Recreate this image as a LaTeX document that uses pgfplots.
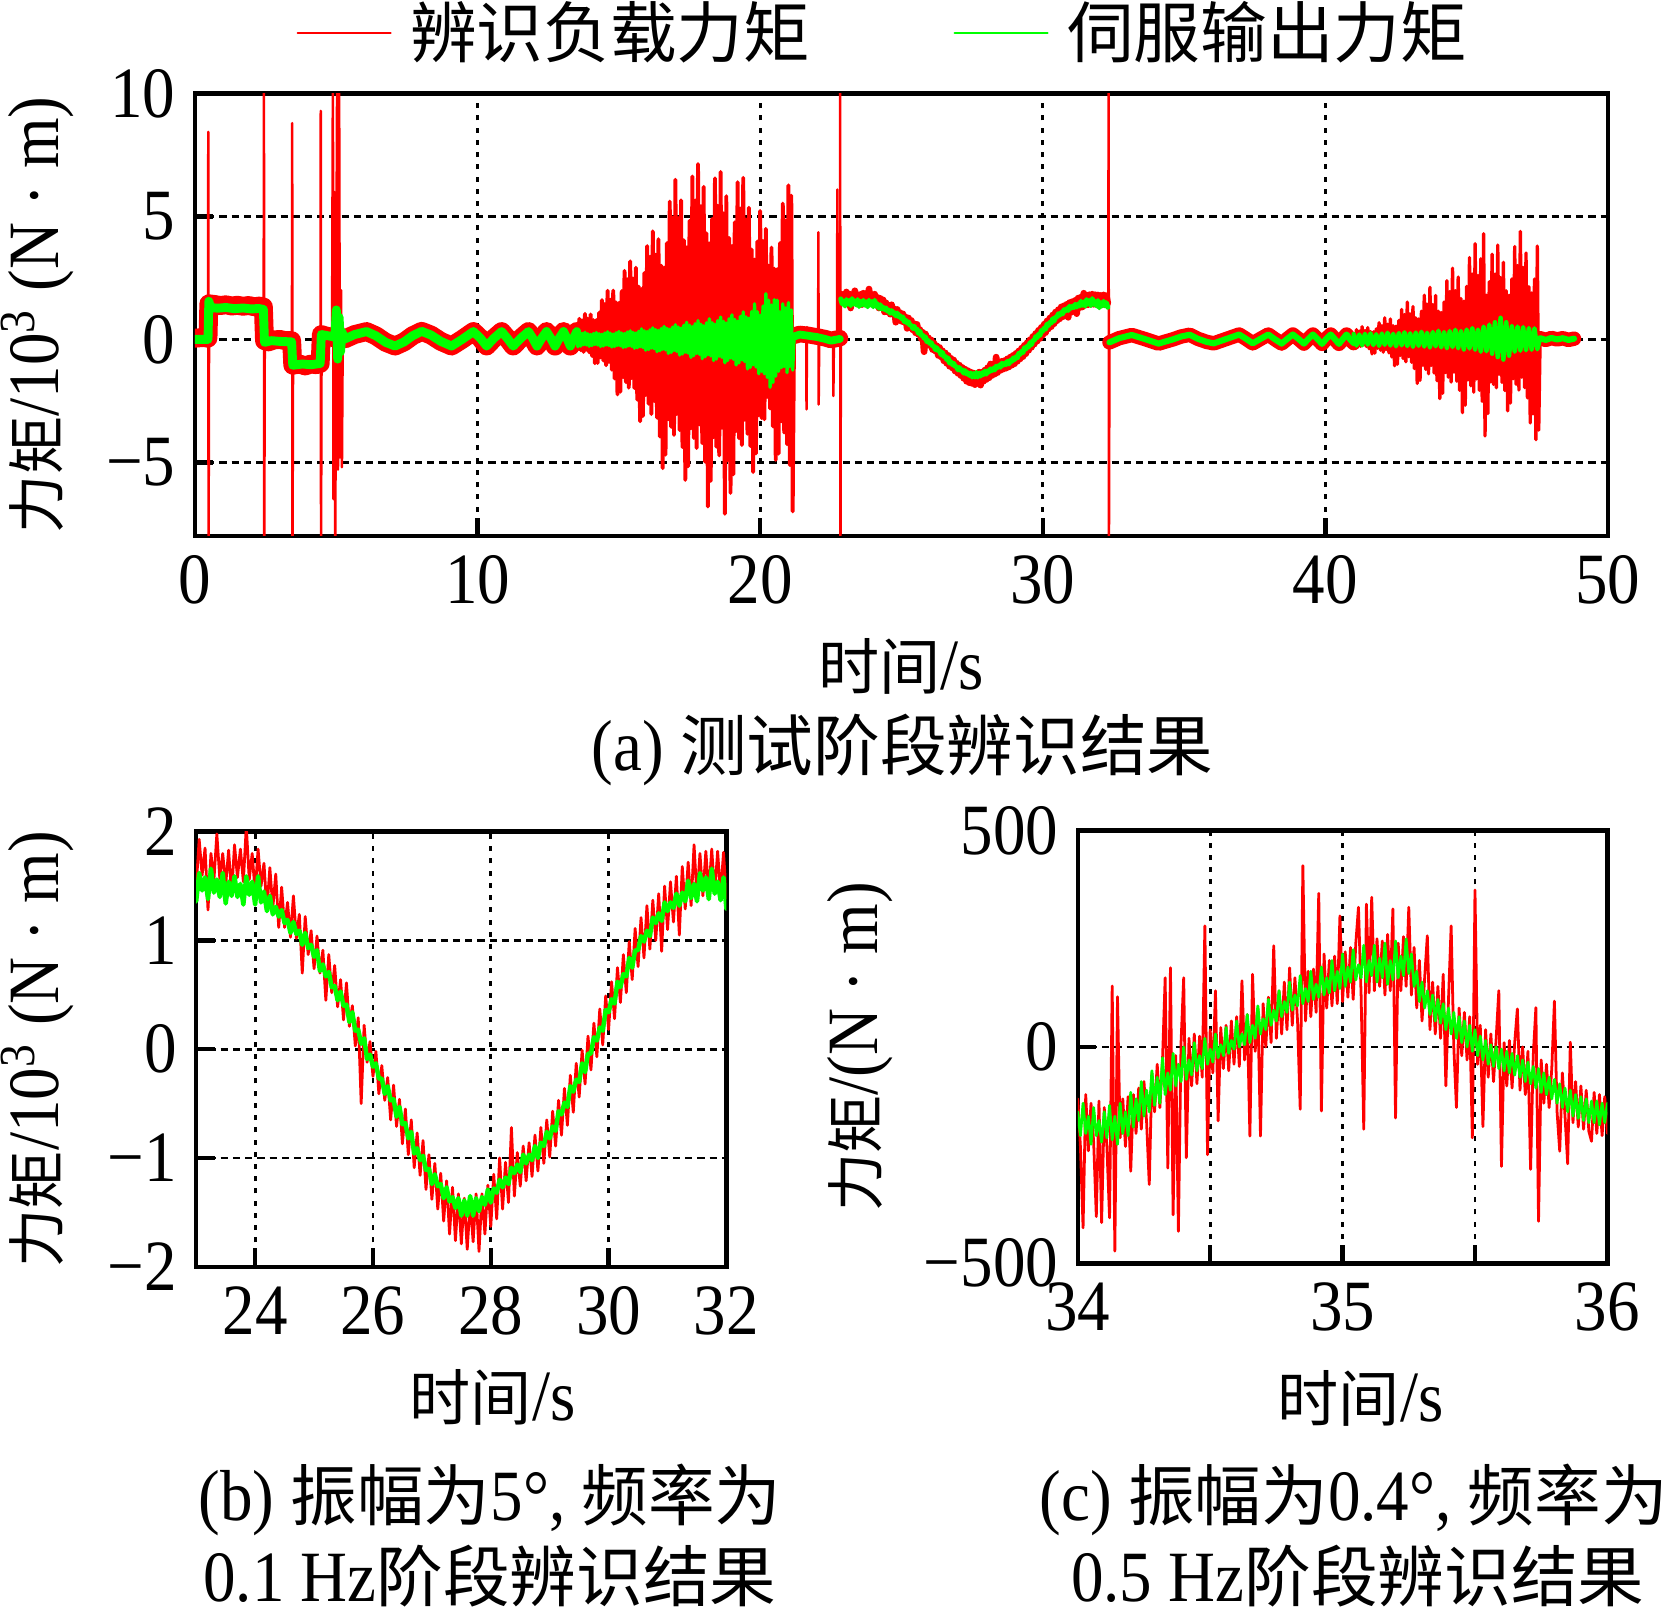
\documentclass[border=0pt]{standalone}
\usepackage{pgfplots}
\pgfplotsset{compat=1.18}
\usepackage{pgfplotstable}
\usepackage{fontspec}
\setmainfont{Liberation Serif}[FakeStretch=0.9]
\newfontfamily\cjk{Noto Sans CJK SC}
\definecolor{myred}{RGB}{255,0,0}
\definecolor{mygreen}{RGB}{0,255,0}
\newcommand{\zh}[2][12]{{\fontsize{#1}{#1}\selectfont\cjk #2}}
\pgfplotsset{
  myaxis/.style={
    scale only axis, anchor=south west, no marks,
    axis line style={line width=0.8pt},
    tick style={line width=0.8pt, black},
    major tick length=3.3pt,
    tick align=inside, tick pos=left,
    grid=major,
    x grid style={line width=0.5pt, black, dash pattern=on 0.9pt off 1.3pt},
    y grid style={line width=0.5pt, black, dash pattern=on 1.3pt off 0.9pt},
    tick label style={font=\fontsize{13}{15}\selectfont},
    label style={font=\fontsize{13}{15}\selectfont},
    every axis plot/.append style={line join=round, line cap=round},
  }
}
\begin{document}
\pgfplotstableread{
t y
22.85 1.85
22.90 1.56
22.95 1.82
23.00 1.50
23.05 1.93
23.10 1.60
23.15 1.85
23.20 1.28
23.25 1.80
23.30 1.55
23.35 1.98
23.40 1.57
23.45 1.80
23.50 1.51
23.55 1.83
23.60 1.42
23.65 1.88
23.70 1.58
23.75 1.84
23.80 1.54
23.85 2.05
23.90 1.56
23.95 1.80
24.00 1.44
24.05 1.84
24.10 1.50
24.15 1.71
24.20 1.28
24.25 1.67
24.30 1.30
24.35 1.61
24.40 1.12
24.45 1.49
24.50 1.12
24.55 1.35
24.60 1.03
24.65 1.41
24.70 1.02
24.75 1.24
24.80 0.70
24.85 1.22
24.90 0.87
24.95 1.09
25.00 0.74
25.05 1.04
25.10 0.70
25.15 0.91
25.20 0.45
25.25 0.87
25.30 0.52
25.35 0.77
25.40 0.39
25.45 0.64
25.50 0.27
25.55 0.61
25.60 0.21
25.65 0.40
25.70 0.03
25.75 0.29
25.80 -0.50
25.85 0.22
25.90 -0.12
25.95 0.07
26.00 -0.25
26.05 -0.02
26.10 -0.41
26.15 -0.15
26.20 -0.47
26.25 -0.26
26.30 -0.65
26.35 -0.33
26.40 -0.71
26.45 -0.46
26.50 -0.87
26.55 -0.55
26.60 -0.97
26.65 -0.65
26.70 -1.09
26.75 -0.77
26.80 -1.16
26.85 -0.84
26.90 -1.29
26.95 -0.97
27.00 -1.38
27.05 -1.05
27.10 -1.47
27.15 -1.14
27.20 -1.58
27.25 -1.21
27.30 -1.70
27.35 -1.27
27.40 -1.76
27.45 -1.33
27.50 -1.79
27.55 -1.37
27.60 -1.84
27.65 -1.40
27.70 -1.77
27.75 -1.33
27.80 -1.86
27.85 -1.33
27.90 -1.70
27.95 -1.25
28.00 -1.63
28.05 -1.15
28.10 -1.56
28.15 -1.00
28.20 -1.47
28.25 -1.04
28.30 -1.41
28.35 -0.72
28.40 -1.35
28.45 -0.95
28.50 -1.26
28.55 -0.89
28.60 -1.21
28.65 -0.86
28.70 -1.17
28.75 -0.79
28.80 -1.12
28.85 -0.72
28.90 -1.05
28.95 -0.65
29.00 -0.99
29.05 -0.57
29.10 -0.89
29.15 -0.47
29.20 -0.79
29.25 -0.36
29.30 -0.70
29.35 -0.24
29.40 -0.58
29.45 -0.13
29.50 -0.44
29.55 -0.01
29.60 -0.32
29.65 0.12
29.70 -0.19
29.75 0.24
29.80 -0.07
29.85 0.37
29.90 0.04
29.95 0.49
30.00 0.18
30.05 0.62
30.10 0.28
30.15 0.75
30.20 0.43
30.25 0.87
30.30 0.52
30.35 0.99
30.40 0.64
30.45 1.11
30.50 0.76
30.55 1.21
30.60 0.84
30.65 1.32
30.70 0.92
30.75 1.37
30.80 1.00
30.85 1.43
30.90 0.90
30.95 1.50
31.00 1.10
31.05 1.54
31.10 1.17
31.15 1.59
31.20 1.05
31.25 1.68
31.30 1.29
31.35 1.72
31.40 1.32
31.45 1.88
31.50 1.39
31.55 1.80
31.60 1.41
31.65 1.82
31.70 1.43
31.75 1.84
31.80 1.43
31.85 1.82
31.90 1.42
31.95 1.81
32.00 1.39
32.05 1.79
32.10 1.41
32.15 1.81
32.20 1.44
32.25 1.78
32.30 1.47
}\bred
\pgfplotstableread{
t y
22.85 1.65
22.90 1.45
22.95 1.56
23.00 1.36
23.05 1.62
23.10 1.46
23.15 1.58
23.20 1.38
23.25 1.66
23.30 1.44
23.35 1.56
23.40 1.40
23.45 1.62
23.50 1.34
23.55 1.54
23.60 1.41
23.65 1.59
23.70 1.40
23.75 1.52
23.80 1.33
23.85 1.59
23.90 1.42
23.95 1.54
24.00 1.33
24.05 1.59
24.10 1.35
24.15 1.45
24.20 1.27
24.25 1.41
24.30 1.24
24.35 1.31
24.40 1.22
24.45 1.28
24.50 1.16
24.55 1.19
24.60 1.07
24.65 1.17
24.70 1.06
24.75 1.09
24.80 0.96
24.85 1.07
24.90 0.93
24.95 0.96
25.00 0.85
25.05 0.91
25.10 0.72
25.15 0.78
25.20 0.67
25.25 0.71
25.30 0.57
25.35 0.58
25.40 0.45
25.45 0.53
25.50 0.40
25.55 0.41
25.60 0.25
25.65 0.34
25.70 0.17
25.75 0.18
25.80 0.05
25.85 0.10
25.90 -0.09
25.95 -0.05
26.00 -0.16
26.05 -0.13
26.10 -0.27
26.15 -0.27
26.20 -0.41
26.25 -0.34
26.30 -0.47
26.35 -0.46
26.40 -0.62
26.45 -0.53
26.50 -0.69
26.55 -0.68
26.60 -0.82
26.65 -0.76
26.70 -0.96
26.75 -0.91
26.80 -1.02
26.85 -0.98
26.90 -1.11
26.95 -1.10
27.00 -1.24
27.05 -1.15
27.10 -1.26
27.15 -1.24
27.20 -1.37
27.25 -1.27
27.30 -1.40
27.35 -1.36
27.40 -1.46
27.45 -1.37
27.50 -1.53
27.55 -1.39
27.60 -1.53
27.65 -1.35
27.70 -1.53
27.75 -1.37
27.80 -1.49
27.85 -1.36
27.90 -1.43
27.95 -1.29
28.00 -1.41
28.05 -1.28
28.10 -1.32
28.15 -1.20
28.20 -1.27
28.25 -1.18
28.30 -1.24
28.35 -1.09
28.40 -1.14
28.45 -1.06
28.50 -1.13
28.55 -0.97
28.60 -1.05
28.65 -0.97
28.70 -1.02
28.75 -0.89
28.80 -1.00
28.85 -0.86
28.90 -0.89
28.95 -0.76
29.00 -0.82
29.05 -0.71
29.10 -0.75
29.15 -0.57
29.20 -0.60
29.25 -0.49
29.30 -0.53
29.35 -0.34
29.40 -0.39
29.45 -0.28
29.50 -0.30
29.55 -0.13
29.60 -0.21
29.65 -0.04
29.70 -0.04
29.75 0.11
29.80 0.08
29.85 0.20
29.90 0.17
29.95 0.36
30.00 0.34
30.05 0.46
30.10 0.42
30.15 0.62
30.20 0.57
30.25 0.69
30.30 0.67
30.35 0.84
30.40 0.75
30.45 0.91
30.50 0.91
30.55 1.04
30.60 0.99
30.65 1.09
30.70 1.04
30.75 1.21
30.80 1.16
30.85 1.25
30.90 1.18
30.95 1.35
31.00 1.27
31.05 1.35
31.10 1.30
31.15 1.43
31.20 1.32
31.25 1.44
31.30 1.36
31.35 1.55
31.40 1.39
31.45 1.52
31.50 1.36
31.55 1.62
31.60 1.46
31.65 1.58
31.70 1.38
31.75 1.66
31.80 1.43
31.85 1.54
31.90 1.37
31.95 1.58
32.00 1.29
32.05 1.49
32.10 1.37
32.15 1.55
32.20 1.37
32.25 1.49
32.30 1.31
}\bgreen
\pgfplotstableread{
t y
34.00 -120
34.01 -230
34.02 -418
34.03 -110
34.04 -240
34.05 -130
34.06 -220
34.07 -392
34.08 -125
34.09 -406
34.10 -140
34.11 -230
34.12 -395
34.13 141
34.14 -472
34.15 116
34.16 -210
34.17 -120
34.18 -230
34.19 -115
34.20 -287
34.21 -110
34.22 -200
34.23 -95
34.24 -190
34.25 -80
34.26 -175
34.27 -318
34.28 -60
34.29 -150
34.30 -40
34.31 -140
34.32 -30
34.33 160
34.34 -280
34.35 183
34.36 -388
34.37 -20
34.38 -426
34.39 10
34.40 160
34.41 -256
34.42 20
34.43 -90
34.44 30
34.45 -85
34.46 25
34.47 -70
34.48 280
34.49 -249
34.50 40
34.51 -60
34.52 130
34.53 -171
34.54 45
34.55 -50
34.56 50
34.57 -55
34.58 60
34.59 -40
34.60 70
34.61 -45
34.62 153
34.63 -30
34.64 75
34.65 -206
34.66 168
34.67 -10
34.68 90
34.69 -206
34.70 100
34.71 0
34.72 115
34.73 10
34.74 234
34.75 20
34.76 130
34.77 30
34.78 150
34.79 40
34.80 183
34.81 50
34.82 160
34.83 60
34.84 -144
34.85 419
34.86 60
34.87 175
34.88 70
34.89 180
34.90 80
34.91 355
34.92 -148
34.93 215
34.94 90
34.95 200
34.96 95
34.97 210
34.98 100
34.99 303
35.00 105
35.01 220
35.02 115
35.03 230
35.04 110
35.05 240
35.06 323
35.07 120
35.08 -190
35.09 330
35.10 125
35.11 346
35.12 130
35.13 250
35.14 140
35.15 245
35.16 120
35.17 260
35.18 130
35.19 319
35.20 -164
35.21 240
35.22 130
35.23 255
35.24 140
35.25 323
35.26 120
35.27 230
35.28 90
35.29 200
35.30 60
35.31 160
35.32 257
35.33 40
35.34 150
35.35 30
35.36 140
35.37 20
35.38 168
35.39 -90
35.40 110
35.41 280
35.42 0
35.43 -140
35.44 90
35.45 -20
35.46 80
35.47 -30
35.48 70
35.49 -210
35.50 363
35.51 -40
35.52 50
35.53 -184
35.54 40
35.55 -70
35.56 30
35.57 -80
35.58 20
35.59 130
35.60 -276
35.61 10
35.62 -90
35.63 15
35.64 -95
35.65 10
35.66 88
35.67 -100
35.68 0
35.69 -110
35.70 -10
35.71 -283
35.72 -20
35.73 91
35.74 -403
35.75 -30
35.76 -130
35.77 -40
35.78 -140
35.79 -50
35.80 106
35.81 -150
35.82 -241
35.83 -60
35.84 -160
35.85 -270
35.86 11
35.87 -175
35.88 -80
35.89 -185
35.90 -90
35.91 -190
35.92 -100
35.93 -195
35.94 -218
35.95 -105
35.96 -200
35.97 -110
35.98 -205
35.99 -115
36.00 -200
}\cred
\pgfplotstableread{
t y
34.00 -150
34.01 -205
34.02 -130
34.03 -200
34.04 -160
34.05 -225
34.06 -140
34.07 -205
34.08 -170
34.09 -220
34.10 -150
34.11 -210
34.12 -135
34.13 -215
34.14 -160
34.15 -225
34.16 -130
34.17 -200
34.18 -150
34.19 -205
34.20 -105
34.21 -185
34.22 -120
34.23 -170
34.24 -80
34.25 -160
34.26 -100
34.27 -150
34.28 -55
34.29 -135
34.30 -70
34.31 -130
34.32 -25
34.33 -110
34.34 -60
34.35 -100
34.36 -15
34.37 -90
34.38 -40
34.39 -80
34.40 0
34.41 -75
34.42 -30
34.43 -65
34.44 10
34.45 -55
34.46 -20
34.47 -50
34.48 20
34.49 -40
34.50 -5
34.51 -35
34.52 30
34.53 -25
34.54 5
34.55 -20
34.56 45
34.57 -15
34.58 15
34.59 -5
34.60 60
34.61 0
34.62 30
34.63 5
34.64 75
34.65 10
34.66 50
34.67 20
34.68 95
34.69 30
34.70 65
34.71 40
34.72 110
34.73 50
34.74 85
34.75 60
34.76 130
34.77 70
34.78 105
34.79 80
34.80 150
34.81 85
34.82 120
34.83 95
34.84 165
34.85 100
34.86 135
34.87 105
34.88 175
34.89 110
34.90 145
34.91 115
34.92 185
34.93 120
34.94 160
34.95 125
34.96 200
34.97 130
34.98 175
34.99 135
35.00 215
35.01 140
35.02 185
35.03 150
35.04 225
35.05 155
35.06 190
35.07 160
35.08 235
35.09 150
35.10 200
35.11 165
35.12 235
35.13 150
35.14 205
35.15 160
35.16 240
35.17 145
35.18 200
35.19 155
35.20 245
35.21 160
35.22 210
35.23 165
35.24 250
35.25 170
35.26 215
35.27 140
35.28 175
35.29 105
35.30 150
35.31 90
35.32 130
35.33 75
35.34 120
35.35 60
35.36 110
35.37 55
35.38 100
35.39 40
35.40 90
35.41 30
35.42 80
35.43 20
35.44 70
35.45 10
35.46 60
35.47 0
35.48 50
35.49 -10
35.50 40
35.51 -20
35.52 25
35.53 -30
35.54 15
35.55 -40
35.56 5
35.57 -45
35.58 0
35.59 -50
35.60 -5
35.61 -55
35.62 -10
35.63 -60
35.64 -15
35.65 -65
35.66 -20
35.67 -70
35.68 -30
35.69 -80
35.70 -35
35.71 -85
35.72 -45
35.73 -95
35.74 -50
35.75 -105
35.76 -60
35.77 -110
35.78 -70
35.79 -120
35.80 -75
35.81 -130
35.82 -85
35.83 -140
35.84 -95
35.85 -150
35.86 -100
35.87 -160
35.88 -110
35.89 -165
35.90 -115
35.91 -170
35.92 -120
35.93 -175
35.94 -125
35.95 -175
35.96 -125
35.97 -180
35.98 -130
35.99 -175
36.00 -130
}\cgreen
\begin{tikzpicture}
\useasboundingbox (0,0) rectangle (300.6pt,289.98pt);
% ---------------- (a) ----------------
\begin{axis}[myaxis, at={(35.1pt,193.5pt)}, width=254.34pt, height=79.61pt,
  xmin=0, xmax=50, ymin=-8, ymax=10,
  xtick={0,10,20,30,40,50}, xticklabels={0,10,20,30,40,50},
  ytick={-5,0,5,10}, yticklabels={−5,0,5,10},
  xlabel={\zh[11]{时间}/s},
  xlabel style={at={(axis description cs:0.5,-0.294)}, anchor=center},
  ylabel={\zh[10.5]{力矩}/10\textsuperscript{3} (N · m)},
  ylabel style={at={(axis description cs:-0.1117,0.5)}, anchor=center},
  legend columns=2,
  legend style={draw=none, fill=none, at={(axis description cs:0.49,1)}, anchor=center, yshift=10.9pt,
    font=\fontsize{12}{14}\selectfont\cjk,
    /tikz/every even column/.append style={column sep=23.8pt}},
  legend image code/.code={\draw[#1] (0pt,0pt) -- (16.7pt,0pt); \path (18pt,0pt);},
]
\addlegendimage{myred, line width=0.45pt}
\addlegendimage{mygreen, line width=0.45pt}
\legend{辨识负载力矩, 伺服输出力矩}
% red band
\addplot[myred, line width=3.4pt] coordinates {(0,0.05) (0.3,0.08) (0.46,0.05) (0.49,1.45) (0.7,1.42) (0.9,1.38) (1.1,1.41) (1.3,1.36) (1.5,1.39) (1.7,1.35) (1.9,1.38) (2.1,1.33) (2.3,1.36) (2.42,1.32) (2.46,-0.05) (2.6,-0.1) (2.8,-0.02) (3.0,0.0) (3.2,-0.05) (3.42,-0.05) (3.46,-1.05) (3.7,-1.0) (3.9,-1.08) (4.1,-1.0) (4.3,-1.03) (4.43,-0.98) (4.47,0.2) (4.6,0.15) (4.8,0.1) (5.0,0.05) (5.3,0.02) (5.65,0.2) (6.07,0.32) (6.4,0.15) (6.75,-0.12) (7.08,-0.27) (7.4,-0.1) (7.7,0.15) (8.02,0.33) (8.35,0.18) (8.7,-0.08) (9.08,-0.27) (9.45,0.0) (9.85,0.32) (10.1,0.05) (10.32,-0.27) (10.58,0.05) (10.85,0.32) (11.05,0.05) (11.26,-0.27) (11.53,0.05) (11.8,0.32) (11.95,0.05) (12.1,-0.27) (12.27,0.05) (12.44,0.32) (12.59,0.05) (12.74,-0.27) (12.89,0.05) (13.04,0.32) (13.16,0.05) (13.28,-0.27) (13.4,0.05) (13.51,0.32)};
\addplot[myred, line width=3.0pt] coordinates {(21.2,0.15) (21.4,0.22) (21.7,0.18) (22.0,0.12) (22.3,0.05) (22.5,-0.02) (22.82,0.05)};
\addplot[myred, line width=1.2pt] table[x=t,y=y] {\bred};
\addplot[myred, line width=2.6pt] coordinates {(32.36,-0.12) (32.7,0.05) (33.15,0.18) (33.6,0.02) (34.1,-0.17) (34.3,-0.1) (34.6,0.0) (34.9,0.12) (35.2,0.19) (35.5,0.02) (35.8,-0.1) (36.05,-0.16) (36.5,0.02) (36.95,0.2) (37.2,0.02) (37.43,-0.16) (37.7,0.02) (37.98,0.2) (38.2,0.02) (38.45,-0.17) (38.65,0.02) (38.85,0.2) (39.05,0.02) (39.24,-0.17) (39.4,0.02) (39.56,0.2) (39.72,0.02) (39.88,-0.18) (40.03,0.02) (40.19,0.2) (40.33,0.02) (40.48,-0.18) (40.62,0.02) (40.75,0.2) (40.88,0.0) (41.0,-0.15)};
\addplot[myred, line width=2.6pt] coordinates {(47.6,0.05) (47.8,-0.02) (48.0,0.06) (48.2,0.0) (48.4,0.05) (48.6,-0.02) (48.8,0.03)};
% red spikes
\addplot[myred, line width=0.45pt] coordinates {(0.46,0.05) (0.47,8.45) (0.48,-9) (0.5,1.4)};
\addplot[myred, line width=0.45pt] coordinates {(2.43,1.35) (2.44,11) (2.45,-9) (2.47,0)};
\addplot[myred, line width=0.45pt] coordinates {(3.43,-0.05) (3.44,8.8) (3.45,-9) (3.47,-1.0)};
\addplot[myred, line width=0.45pt] coordinates {(4.44,-1.0) (4.45,9.3) (4.46,-9) (4.48,0.15)};
\addplot[myred, line width=0.45pt] coordinates {(4.85,0.1) (4.88,11) (4.9,-6.5) (4.93,6) (4.96,-9) (5.0,2) (5.03,11) (5.06,-5.3) (5.1,11) (5.13,-4.8) (5.17,2) (5.2,-5.2) (5.23,0.5) (5.3,0.0)};
\addplot[myred, line width=0.45pt] coordinates {(21.63,0.15) (21.64,-2.85) (21.66,0.5) (21.68,0.15)};
\addplot[myred, line width=0.45pt] coordinates {(22.05,0.1) (22.06,4.36) (22.07,-2.65) (22.09,0.1)};
\addplot[myred, line width=0.45pt] coordinates {(22.58,0.05) (22.59,-2.3) (22.61,0.05)};
\addplot[myred, line width=0.45pt] coordinates {(22.72,0.1) (22.73,6.1) (22.75,0.1)};
\addplot[myred, line width=0.45pt] coordinates {(22.82,0.1) (22.83,11) (22.84,-9) (22.86,1.7)};
\addplot[myred, line width=0.45pt] coordinates {(32.32,1.6) (32.33,11) (32.34,-9) (32.36,-0.1)};
% red burst 1
\addplot[myred, line width=0.7pt] coordinates {(13.50,0.56) (13.55,-0.40) (13.60,0.84) (13.65,-0.44) (13.70,0.77) (13.75,-0.51) (13.80,1.04) (13.85,-0.42) (13.90,0.84) (13.95,-0.53) (14.00,1.02) (14.05,-0.67) (14.10,0.79) (14.15,-0.97) (14.20,0.79) (14.25,-0.96) (14.30,1.09) (14.35,-0.73) (14.40,1.60) (14.45,-0.86) (14.50,1.44) (14.55,-1.05) (14.60,1.98) (14.65,-0.92) (14.70,1.62) (14.75,-1.23) (14.80,1.99) (14.85,-1.59) (14.90,1.51) (14.95,-2.24) (15.00,1.49) (15.05,-2.13) (15.10,1.97) (15.15,-1.53) (15.20,2.79) (15.25,-1.74) (15.30,2.45) (15.35,-1.96) (15.40,3.18) (15.45,-1.57) (15.50,2.48) (15.55,-1.98) (15.60,2.92) (15.65,-2.45) (15.70,2.15) (15.75,-3.33) (15.80,2.05) (15.85,-3.12) (15.90,2.70) (15.95,-2.26) (16.00,3.80) (16.05,-2.62) (16.10,3.36) (16.15,-3.04) (16.20,4.40) (16.25,-2.50) (16.30,3.45) (16.35,-3.19) (16.40,4.08) (16.45,-3.95) (16.50,3.00) (16.55,-5.24) (16.60,2.92) (16.65,-4.69) (16.70,3.92) (16.75,-3.25) (16.80,5.61) (16.85,-3.56) (16.90,4.96) (16.95,-3.89) (17.00,6.50) (17.05,-3.03) (17.10,4.94) (17.15,-3.69) (17.20,5.66) (17.25,-4.38) (17.30,4.04) (17.35,-5.72) (17.40,3.75) (17.45,-5.16) (17.50,4.83) (17.55,-3.61) (17.60,6.63) (17.65,-4.01) (17.70,5.65) (17.75,-4.42) (17.80,7.14) (17.85,-3.46) (17.90,5.42) (17.95,-4.22) (18.00,6.21) (18.05,-4.98) (18.10,4.32) (18.15,-6.80) (18.20,3.91) (18.25,-5.76) (18.30,4.90) (18.35,-3.98) (18.40,6.56) (18.45,-4.37) (18.50,5.44) (18.55,-4.72) (18.60,6.82) (18.65,-3.59) (18.70,5.13) (18.75,-7.10) (18.80,5.83) (18.85,-4.91) (18.90,4.13) (18.95,-6.25) (19.00,3.80) (19.05,-5.49) (19.10,4.77) (19.15,-3.73) (19.20,6.40) (19.25,-4.02) (19.30,5.33) (19.35,-4.30) (19.40,6.58) (19.45,-3.27) (19.50,4.88) (19.55,-3.84) (19.60,5.36) (19.65,-4.34) (19.70,3.66) (19.75,-5.40) (19.80,3.25) (19.85,-4.64) (19.90,3.99) (19.95,-3.08) (20.00,5.23) (20.05,-3.20) (20.10,4.00) (20.15,-3.25) (20.20,4.50) (20.25,-2.34) (20.30,3.00) (20.35,-2.81) (20.40,3.74) (20.45,-3.54) (20.50,2.88) (20.55,-4.90) (20.60,2.86) (20.65,-4.65) (20.70,3.92) (20.75,-3.33) (20.80,5.53) (20.85,-3.79) (20.90,4.84) (20.95,-4.26) (21.00,6.27) (21.05,-5.11) (21.10,5.85) (21.15,-7.00) (21.20,0.30)};
% red burst 2
\addplot[myred, line width=0.6pt] coordinates {(41.00,0.24) (41.05,-0.19) (41.10,0.40) (41.15,-0.23) (41.20,0.34) (41.25,-0.28) (41.30,0.52) (41.35,-0.22) (41.40,0.36) (41.45,-0.29) (41.50,0.48) (41.55,-0.38) (41.60,0.32) (41.65,-0.59) (41.70,0.31) (41.75,-0.56) (41.80,0.43) (41.85,-0.36) (41.90,0.68) (41.95,-0.44) (42.00,0.56) (42.05,-0.52) (42.10,0.88) (42.15,-0.41) (42.20,0.62) (42.25,-0.55) (42.30,0.83) (42.35,-0.71) (42.40,0.56) (42.45,-1.07) (42.50,0.54) (42.55,-1.01) (42.60,0.77) (42.65,-0.65) (42.70,1.22) (42.75,-0.78) (42.80,1.01) (42.85,-0.91) (42.90,1.52) (42.95,-0.70) (43.00,1.04) (43.05,-0.93) (43.10,1.34) (43.15,-1.19) (43.20,0.88) (43.25,-1.79) (43.30,0.83) (43.35,-1.67) (43.40,1.15) (43.45,-1.05) (43.50,1.80) (43.55,-1.22) (43.60,1.44) (43.65,-1.40) (43.70,2.12) (43.75,-1.06) (43.80,1.42) (43.85,-1.37) (43.90,1.79) (43.95,-1.68) (44.00,1.15) (44.05,-2.41) (44.10,1.09) (44.15,-2.19) (44.20,1.52) (44.25,-1.35) (44.30,2.39) (44.35,-1.54) (44.40,1.95) (44.45,-1.74) (44.50,2.90) (44.55,-1.33) (44.60,1.98) (44.65,-1.70) (44.70,2.54) (44.75,-2.07) (44.80,1.66) (44.85,-2.98) (44.90,1.56) (44.95,-2.68) (45.00,2.16) (45.05,-1.65) (45.10,3.33) (45.15,-1.89) (45.20,2.66) (45.25,-2.15) (45.30,3.90) (45.35,-1.61) (45.40,2.60) (45.45,-2.07) (45.50,3.28) (45.55,-2.52) (45.60,4.30) (45.65,-3.93) (45.70,1.80) (45.75,-3.02) (45.80,2.35) (45.85,-1.73) (45.90,3.47) (45.95,-1.83) (46.00,2.66) (46.05,-1.97) (46.10,3.84) (46.15,-1.42) (46.20,2.52) (46.25,-1.75) (46.30,3.14) (46.35,-2.08) (46.40,1.98) (46.45,-2.91) (46.50,1.80) (46.55,-2.59) (46.60,2.46) (46.65,-1.60) (46.70,3.78) (46.75,-1.83) (46.80,3.01) (46.85,-2.06) (46.90,4.40) (46.95,-1.54) (47.00,2.93) (47.05,-1.96) (47.10,3.52) (47.15,-2.38) (47.20,2.15) (47.25,-3.40) (47.30,1.89) (47.35,-3.03) (47.40,2.46) (47.45,-4.08) (47.50,3.80) (47.55,-3.69) (47.60,0.05)};
% green band
\addplot[mygreen, line width=1.6pt] coordinates {(0,0.0) (0.46,0.0) (0.49,1.55) (0.55,1.3) (0.8,1.27) (1.1,1.3) (1.4,1.25) (1.7,1.28) (2.0,1.24) (2.25,1.26) (2.42,1.22) (2.46,-0.12) (2.7,-0.05) (3.0,-0.08) (3.42,-0.1) (3.46,-1.05) (3.8,-1.0) (4.1,-1.03) (4.43,-0.98) (4.47,0.2) (4.7,0.15) (4.95,0.1) (5.0,1.2) (5.05,-0.8) (5.1,0.9) (5.15,-0.5) (5.2,0.3) (5.3,0.02) (5.65,0.2) (6.07,0.32) (6.4,0.15) (6.75,-0.12) (7.08,-0.27) (7.4,-0.1) (7.7,0.15) (8.02,0.33) (8.35,0.18) (8.7,-0.08) (9.08,-0.27) (9.45,0.0) (9.85,0.32) (10.1,0.05) (10.32,-0.27) (10.58,0.05) (10.85,0.32) (11.05,0.05) (11.26,-0.27) (11.53,0.05) (11.8,0.32) (11.95,0.05) (12.1,-0.27) (12.27,0.05) (12.44,0.32) (12.59,0.05) (12.74,-0.27) (12.89,0.05) (13.04,0.32) (13.16,0.05) (13.28,-0.27) (13.4,0.05) (13.51,0.32)};
\addplot[mygreen, line width=1.4pt] coordinates {(21.2,0.12) (21.4,0.2) (21.7,0.15) (22.0,0.1) (22.3,0.02) (22.5,-0.05) (22.82,0.02)};
\addplot[mygreen, line width=0.9pt] table[x=t,y=y] {\bgreen};
\addplot[mygreen, line width=1.1pt] coordinates {(32.36,-0.12) (32.7,0.05) (33.15,0.18) (33.6,0.02) (34.1,-0.17) (34.3,-0.1) (34.6,0.0) (34.9,0.12) (35.2,0.19) (35.5,0.02) (35.8,-0.1) (36.05,-0.16) (36.5,0.02) (36.95,0.2) (37.2,0.02) (37.43,-0.16) (37.7,0.02) (37.98,0.2) (38.2,0.02) (38.45,-0.17) (38.65,0.02) (38.85,0.2) (39.05,0.02) (39.24,-0.17) (39.4,0.02) (39.56,0.2) (39.72,0.02) (39.88,-0.18) (40.03,0.02) (40.19,0.2) (40.33,0.02) (40.48,-0.18) (40.62,0.02) (40.75,0.2) (40.88,0.0) (41.0,-0.15)};
\addplot[mygreen, line width=1.1pt] coordinates {(47.6,0.05) (47.8,-0.02) (48.0,0.06) (48.2,0.0) (48.4,0.05) (48.6,-0.02) (48.8,0.03)};
% green burst 1
\addplot[mygreen, line width=0.6pt] coordinates {(13.50,0.24) (13.55,-0.30) (13.60,0.21) (13.65,-0.27) (13.70,0.25) (13.75,-0.22) (13.80,0.29) (13.85,-0.23) (13.90,0.23) (13.95,-0.28) (14.00,0.20) (14.05,-0.25) (14.10,0.24) (14.15,-0.21) (14.20,0.28) (14.25,-0.23) (14.30,0.23) (14.35,-0.29) (14.40,0.21) (14.45,-0.27) (14.50,0.26) (14.55,-0.23) (14.60,0.31) (14.65,-0.25) (14.70,0.25) (14.75,-0.31) (14.80,0.22) (14.85,-0.29) (14.90,0.27) (14.95,-0.24) (15.00,0.32) (15.05,-0.26) (15.10,0.26) (15.15,-0.33) (15.20,0.24) (15.25,-0.31) (15.30,0.30) (15.35,-0.26) (15.40,0.35) (15.45,-0.28) (15.50,0.29) (15.55,-0.36) (15.60,0.26) (15.65,-0.34) (15.70,0.33) (15.75,-0.30) (15.80,0.43) (15.85,-0.33) (15.90,0.35) (15.95,-0.44) (16.00,0.32) (16.05,-0.41) (16.10,0.39) (16.15,-0.35) (16.20,0.47) (16.25,-0.38) (16.30,0.40) (16.35,-0.50) (16.40,0.36) (16.45,-0.46) (16.50,0.44) (16.55,-0.40) (16.60,0.53) (16.65,-0.43) (16.70,0.45) (16.75,-0.57) (16.80,0.41) (16.85,-0.53) (16.90,0.50) (16.95,-0.45) (17.00,0.60) (17.05,-0.49) (17.10,0.50) (17.15,-0.64) (17.20,0.46) (17.25,-0.59) (17.30,0.58) (17.35,-0.52) (17.40,0.70) (17.45,-0.56) (17.50,0.58) (17.55,-0.73) (17.60,0.52) (17.65,-0.66) (17.70,0.64) (17.75,-0.57) (17.80,0.77) (17.85,-0.61) (17.90,0.62) (17.95,-0.78) (18.00,0.55) (18.05,-0.71) (18.10,0.68) (18.15,-0.62) (18.20,0.84) (18.25,-0.67) (18.30,0.68) (18.35,-0.86) (18.40,0.62) (18.45,-0.80) (18.50,0.77) (18.55,-0.68) (18.60,0.91) (18.65,-0.73) (18.70,0.74) (18.75,-0.95) (18.80,0.67) (18.85,-0.86) (18.90,0.84) (18.95,-0.75) (19.00,1.00) (19.05,-0.81) (19.10,0.82) (19.15,-1.04) (19.20,0.74) (19.25,-0.96) (19.30,0.94) (19.35,-0.83) (19.40,1.12) (19.45,-0.90) (19.50,0.92) (19.55,-1.20) (19.60,0.86) (19.65,-1.14) (19.70,1.13) (19.75,-1.03) (19.80,1.45) (19.85,-1.12) (19.90,1.13) (19.95,-1.40) (20.00,0.98) (20.05,-1.30) (20.10,1.36) (20.15,-1.40) (20.20,1.86) (20.25,-1.55) (20.30,1.60) (20.35,-1.95) (20.40,1.40) (20.45,-1.75) (20.50,1.62) (20.55,-1.50) (20.60,1.60) (20.65,-1.30) (20.70,1.12) (20.75,-1.15) (20.80,1.45) (20.85,-1.10) (20.90,1.28) (20.95,-1.35) (21.00,1.50) (21.05,-1.10) (21.10,1.20) (21.15,-1.25) (21.20,0.10)};
% green burst 2
\addplot[mygreen, line width=0.8pt] coordinates {(41.0,0.22) (41.1,-0.25) (41.2,0.20) (41.3,-0.24) (41.4,0.23) (41.5,-0.21) (41.6,0.25) (41.7,-0.23) (41.8,0.21) (41.9,-0.26) (42.0,0.24) (42.1,-0.22) (42.2,0.27) (42.3,-0.25) (42.4,0.23) (42.5,-0.28) (42.6,0.26) (42.7,-0.24) (42.8,0.29) (42.9,-0.27) (43.0,0.25) (43.1,-0.30) (43.2,0.28) (43.3,-0.26) (43.4,0.31) (43.5,-0.29) (43.6,0.27) (43.7,-0.33) (43.8,0.30) (43.9,-0.28) (44.0,0.35) (44.1,-0.32) (44.2,0.30) (44.3,-0.36) (44.4,0.34) (44.5,-0.31) (44.6,0.39) (44.7,-0.36) (44.8,0.34) (44.9,-0.42) (45.0,0.40) (45.1,-0.37) (45.2,0.46) (45.3,-0.42) (45.4,0.40) (45.5,-0.50) (45.6,0.52) (45.7,-0.48) (45.8,0.60) (45.9,-0.58) (46.0,0.70) (46.1,-0.72) (46.2,0.88) (46.3,-0.82) (46.4,0.70) (46.5,-0.66) (46.6,0.55) (46.7,-0.50) (46.8,0.52) (46.9,-0.46) (47.0,0.50) (47.1,-0.44) (47.2,0.46) (47.3,-0.42) (47.4,0.45) (47.5,-0.40) (47.6,0.05)};
\end{axis}
% ---------------- (b) ----------------
\begin{axis}[myaxis, at={(35.32pt,61.97pt)}, width=95.44pt, height=78.3pt,
  xmin=23, xmax=32, ymin=-2, ymax=2,
  xtick={24,26,28,30,32}, xticklabels={24,26,28,30,32},
  ytick={-2,-1,0,1,2}, yticklabels={−2,−1,0,1,2},
  xlabel={\zh[11]{时间}/s},
  xlabel style={at={(axis description cs:0.559,-0.3014)}, anchor=center},
  ylabel={\zh[10.5]{力矩}/10\textsuperscript{3} (N · m)},
  ylabel style={at={(axis description cs:-0.2997,0.5)}, anchor=center},
]
\addplot[myred, line width=0.5pt] table[x=t,y=y] {\bred};
\addplot[mygreen, line width=0.8pt] table[x=t,y=y] {\bgreen};
\end{axis}
% ---------------- (c) ----------------
\begin{axis}[myaxis, at={(194.0pt,62.59pt)}, width=95.33pt, height=77.87pt,
  xmin=34, xmax=36, ymin=-500, ymax=500,
  xtick={34,34.5,35,35.5,36}, xticklabels={34,,35,,36},
  ytick={-500,0,500}, yticklabels={−500,0,500},
  xlabel={\zh[11]{时间}/s},
  xlabel style={at={(axis description cs:0.534,-0.312)}, anchor=center},
  ylabel={\zh[10.5]{力矩}/(N · m)},
  ylabel style={at={(axis description cs:-0.4112,0.5)}, anchor=center},
]
\addplot[myred, line width=0.5pt] table[x=t,y=y] {\cred};
\addplot[mygreen, line width=0.5pt] table[x=t,y=y] {\cgreen};
\end{axis}
% captions
\node[font=\fontsize{13}{15}\selectfont, anchor=center] at (162.5pt,155.0pt) {(a) \zh{测试阶段辨识结果}};
\node[font=\fontsize{13}{15}\selectfont, anchor=center] at (88.2pt,20.0pt) {(b) \zh{振幅为}5°, \zh{频率为}};
\node[font=\fontsize{13}{15}\selectfont, anchor=center] at (88.2pt,6.3pt) {0.1 Hz\zh{阶段辨识结果}};
\node[font=\fontsize{13}{15}\selectfont, anchor=center] at (243.7pt,20.0pt) {(c) \zh{振幅为}0.4°, \zh{频率为}};
\node[font=\fontsize{13}{15}\selectfont, anchor=center] at (244.4pt,6.3pt) {0.5 Hz\zh{阶段辨识结果}};
\end{tikzpicture}
\end{document}
